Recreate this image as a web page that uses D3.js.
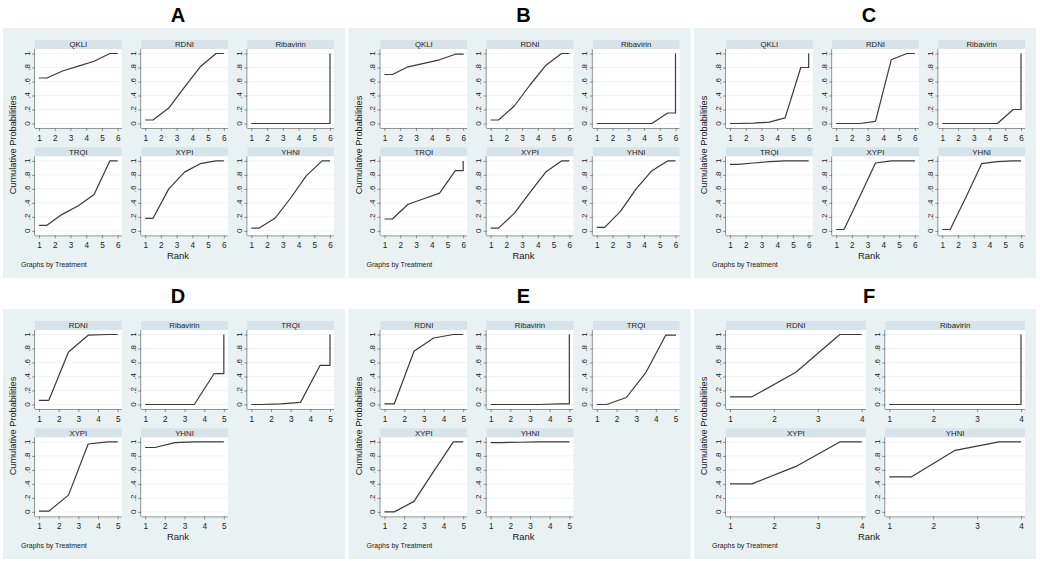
<!DOCTYPE html>
<html>
<head>
<meta charset="utf-8">
<script src="https://cdn.jsdelivr.net/npm/d3@7"></script>
<style>
  body { margin: 0; background: #fff; }
  text { font-family: "Liberation Sans", Arial, sans-serif; fill: #222; }
</style>
</head>
<body>
<svg id="chart" width="1040" height="561"></svg>
<script>
// panel letters and the treatments shown in each panel
const panelLetters = ['A', 'B', 'C', 'D', 'E', 'F'];
const treatSix = ['QKLI', 'RDNI', 'Ribavirin', 'TRQI', 'XYPI', 'YHNI'];
const treatFive = ['RDNI', 'Ribavirin', 'TRQI', 'XYPI', 'YHNI'];
const treatFour = ['RDNI', 'Ribavirin', 'XYPI', 'YHNI'];

// cumulative probability at each rank (rank 1..n)
const cumA = [
  [0.65, 0.75, 0.82, 0.89, 1.00, 1],
  [0.05, 0.22, 0.52, 0.81, 1.00, 1],
  [0.00, 0.00, 0.00, 0.00, 0.00, 1],
  [0.08, 0.24, 0.36, 0.52, 1.00, 1],
  [0.18, 0.60, 0.84, 0.96, 1.00, 1],
  [0.04, 0.18, 0.47, 0.79, 1.00, 1]
];
const cumB = [
  [0.70, 0.81, 0.86, 0.91, 0.99, 1],
  [0.05, 0.25, 0.55, 0.83, 1.00, 1],
  [0.00, 0.00, 0.00, 0.00, 0.15, 1],
  [0.17, 0.38, 0.46, 0.54, 0.86, 1],
  [0.04, 0.25, 0.55, 0.84, 1.00, 1],
  [0.05, 0.28, 0.60, 0.86, 1.00, 1]
];
const cumC = [
  [0.00, 0.005, 0.02, 0.08, 0.80, 1],
  [0.00, 0.00, 0.03, 0.91, 1.00, 1],
  [0.00, 0.00, 0.00, 0.00, 0.20, 1],
  [0.95, 0.97, 0.99, 1.00, 1.00, 1],
  [0.02, 0.49, 0.97, 1.00, 1.00, 1],
  [0.02, 0.48, 0.96, 0.99, 1.00, 1]
];
const cumD = [
  [0.06, 0.75, 0.99, 1.00, 1],
  [0.00, 0.00, 0.00, 0.44, 1],
  [0.00, 0.01, 0.03, 0.56, 1],
  [0.01, 0.24, 0.97, 1.00, 1],
  [0.92, 0.99, 1.00, 1.00, 1]
];
const cumE = [
  [0.01, 0.76, 0.95, 1.00, 1],
  [0.00, 0.00, 0.00, 0.01, 1],
  [0.00, 0.10, 0.46, 0.99, 1],
  [0.00, 0.15, 0.58, 1.00, 1],
  [0.99, 0.995, 1.00, 1.00, 1]
];
const cumF = [
  [0.11, 0.46, 1.00, 1],
  [0.00, 0.00, 0.00, 1],
  [0.40, 0.65, 1.00, 1],
  [0.50, 0.88, 1.00, 1]
];
const yTicks = [0, 0.2, 0.4, 0.6, 0.8, 1];

// panel table built from the arrays above
const panels = [
  { letter: panelLetters[0], treat: treatSix, cum: cumA, ncol: 3 },
  { letter: panelLetters[1], treat: treatSix, cum: cumB, ncol: 3 },
  { letter: panelLetters[2], treat: treatSix, cum: cumC, ncol: 3 },
  { letter: panelLetters[3], treat: treatFive, cum: cumD, ncol: 3 },
  { letter: panelLetters[4], treat: treatFive, cum: cumE, ncol: 3 },
  { letter: panelLetters[5], treat: treatFour, cum: cumF, ncol: 2 }
];

const svg = d3.select('#chart');

// layout constants (local to a panel)
const panelPitchX = 345.5, panelPitchY = 281;
const gridLeft = 35, gridSpan = 299, colGap = 19.5;
const stripTop = 40, stripH = 9, plotH = 79, rowPitch = 107.4, pad = 4.5;

const bgColor = '#eaf1f3', stripColor = '#d7e2e9', lineColor = '#3a3a3a';

// path of the Stata-style cumulative rank plot
function rankPath(c) {
  const n = c.length;
  const pts = [[1, c[0]], [1.5, c[0]]];
  for (let k = 2; k <= n - 1; k++) pts.push([k + 0.5, c[k - 1]]);
  pts[pts.length - 1] = [n - 0.5, c[n - 2]];
  pts.push([n, c[n - 2]]);
  pts.push([n, c[n - 1]]);
  return pts;
}

const fmtY = d => d === 0 ? '0' : d === 1 ? '1' : String(d).replace('0.', '.');

panels.forEach((p, pi) => {
  const g = svg.append('g')
    .attr('transform', `translate(${(pi % 3) * panelPitchX},${Math.floor(pi / 3) * panelPitchY})`);

  // panel letter
  g.append('text').attr('x', 178).attr('y', 22)
    .attr('text-anchor', 'middle').attr('font-size', 20).attr('font-weight', 'bold')
    .style('fill', '#000').text(p.letter);

  // graph region background
  g.append('rect').attr('x', 3).attr('y', 28).attr('width', 342).attr('height', 250)
    .attr('fill', bgColor);

  const cellW = (gridSpan - colGap * (p.ncol - 1)) / p.ncol;
  const n = p.cum[0].length;
  const ranks = d3.range(1, n + 1);

  p.treat.forEach((name, i) => {
    const col = i % p.ncol, row = Math.floor(i / p.ncol);
    const left = gridLeft + col * (cellW + colGap);
    const sTop = stripTop + row * rowPitch;
    const pTop = sTop + stripH, pBot = pTop + plotH;

    const x = d3.scaleLinear().domain([1, n]).range([left + 4, left + cellW - 4]);
    const y = d3.scaleLinear().domain([0, 1]).range([pBot - pad, pTop + pad]);

    // strip header
    g.append('rect').attr('x', left).attr('y', sTop).attr('width', cellW).attr('height', stripH)
      .attr('fill', stripColor);
    g.append('text').attr('x', left + cellW / 2).attr('y', sTop + stripH / 2 + 2.8)
      .attr('text-anchor', 'middle').attr('font-size', 7.8).text(name);

    // plot region
    g.append('rect').attr('x', left).attr('y', pTop).attr('width', cellW).attr('height', plotH)
      .attr('fill', '#fff');

    // gridlines
    g.selectAll(null).data(yTicks).enter().append('line')
      .attr('x1', left).attr('x2', left + cellW)
      .attr('y1', d => y(d)).attr('y2', d => y(d))
      .attr('stroke', '#e9ecee').attr('stroke-width', 0.7);

    // y axis
    const ya = g.append('g').attr('transform', `translate(${left},0)`)
      .call(d3.axisLeft(y).tickValues(yTicks).tickSize(3).tickFormat(''));
    ya.selectAll('path, line').attr('stroke', '#555').attr('stroke-width', 0.6);
    g.selectAll(null).data(yTicks).enter().append('text')
      .attr('transform', d => `translate(${left - 5.5},${y(d)}) rotate(-90)`)
      .attr('text-anchor', 'middle').attr('font-size', 8).text(fmtY);

    // x axis
    const xa = g.append('g').attr('transform', `translate(0,${pBot})`)
      .call(d3.axisBottom(x).tickValues(ranks).tickSize(3).tickFormat(d3.format('d')));
    xa.selectAll('path, line').attr('stroke', '#555').attr('stroke-width', 0.6);
    xa.selectAll('text').attr('font-size', 8.2).attr('dy', '0.85em')
      .attr('font-family', '"Liberation Sans", Arial, sans-serif').style('fill', '#222');
    xa.select('.domain').attr('d', `M${left},0.5H${left + cellW}`);
    ya.select('.domain').attr('d', `M-0.5,${pTop}V${pBot}`);

    // cumulative curve
    g.append('path').datum(rankPath(p.cum[i]))
      .attr('d', d3.line().x(d => x(d[0])).y(d => y(d[1])))
      .attr('fill', 'none').attr('stroke', lineColor).attr('stroke-width', 1.2)
      .attr('stroke-linejoin', 'round');
  });

  // axis titles and note
  g.append('text').attr('x', 178).attr('y', 259).attr('text-anchor', 'middle')
    .attr('font-size', 9.5).text('Rank');
  g.append('text').attr('transform', 'translate(16,145) rotate(-90)')
    .attr('text-anchor', 'middle').attr('font-size', 9.2).text('Cumulative Probabilities');
  g.append('text').attr('x', 21).attr('y', 267).attr('font-size', 7)
    .text('Graphs by Treatment');
});
</script>
</body>
</html>
